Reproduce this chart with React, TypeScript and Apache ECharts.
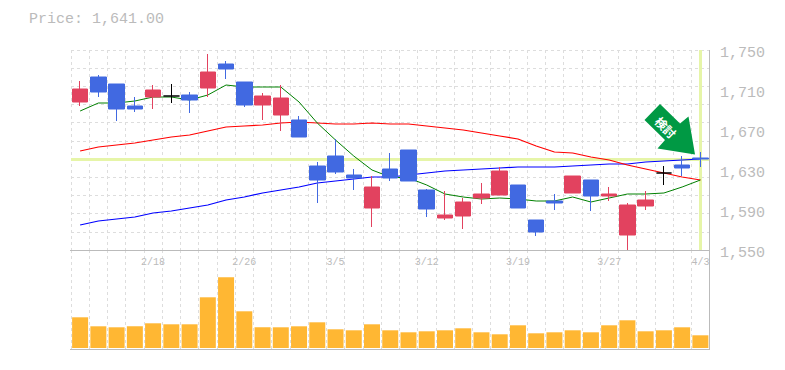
import React, { useEffect, useRef } from "react";
import * as echarts from "echarts";

const priceLabel = "Price: 1,641.00";
const lastPrice = 1641;
const lastIndex = 34;
const yTicks = [1550, 1590, 1630, 1670, 1710, 1750];
const dateLabels: Record<number, string> = { 4: "2/18", 9: "2/26", 14: "3/5", 19: "3/12", 24: "3/19", 29: "3/27", 34: "4/3" };
const categories = Array.from({ length: 35 }, (_, i) => dateLabels[i] ?? "");

// open, close, low, high
const candles = [
  [1698, 1711, 1694, 1719], [1723, 1708, 1703, 1725], [1716, 1691, 1679, 1716], [1694, 1691, 1688, 1703],
  [1703, 1710, 1691, 1715], [1704, 1704, 1697, 1716], [1705, 1700, 1687, 1708], [1712, 1728, 1703, 1746],
  [1736, 1731, 1721, 1739], [1718, 1695, 1693, 1718], [1695, 1704, 1680, 1707], [1685, 1702, 1669, 1715],
  [1680, 1663, 1663, 1684], [1634, 1620, 1597, 1638], [1644, 1628, 1626, 1661], [1625, 1622, 1610, 1631],
  [1592, 1613, 1573, 1624], [1631, 1622, 1619, 1647], [1650, 1619, 1619, 1650], [1610, 1591, 1583, 1611],
  [1582, 1585, 1580, 1609], [1584, 1598, 1571, 1602], [1602, 1606, 1596, 1617], [1605, 1629, 1605, 1633],
  [1615, 1592, 1592, 1615], [1580, 1568, 1564, 1580], [1599, 1597, 1590, 1606], [1607, 1624, 1607, 1624],
  [1620, 1604, 1589, 1620], [1604, 1606, 1599, 1613], [1565, 1595, 1550, 1597], [1594, 1600, 1590, 1609],
  [1627, 1627, 1615, 1634], [1635, 1632, 1624, 1644], [1642, 1641, 1633, 1648],
];
const maShort = [1689, 1697, 1697, 1699, 1703, 1703, 1700, 1705, 1715, 1713, 1713, 1713, 1698, 1677, 1660, 1644, 1630, 1623, 1622, 1615, 1606, 1603, 1601, 1602, 1601, 1599, 1599, 1603, 1598, 1602, 1606, 1606, 1607, 1613, 1620];
const maMid = [1649, 1653, 1655, 1657, 1660, 1663, 1665, 1669, 1673, 1674, 1675, 1677, 1678, 1677, 1676, 1676, 1677, 1676, 1676, 1674, 1672, 1670, 1667, 1664, 1661, 1654, 1648, 1647, 1643, 1640, 1635, 1631, 1627, 1623, 1620];
const maLong = [1575, 1579, 1581, 1583, 1587, 1589, 1592, 1595, 1600, 1603, 1607, 1610, 1613, 1617, 1619, 1621, 1623, 1623, 1625, 1627, 1629, 1630, 1631, 1632, 1633, 1633, 1633, 1634, 1635, 1636, 1636, 1638, 1639, 1640, 1641];
const volumes = [307, 217, 207, 217, 247, 237, 237, 507, 707, 367, 207, 207, 217, 257, 187, 177, 237, 177, 157, 167, 177, 197, 157, 137, 227, 147, 157, 177, 157, 227, 277, 167, 177, 207, 127];

const GRAY = "#bbbbbb";
const GRID = "#dddddd";
const HIGHLIGHT = "#e6f5a8";
const MONO = "'Liberation Mono', monospace";

const dashed = { show: true, lineStyle: { color: GRID, width: 1, type: [3, 3] as number[] } };

export default function App() {
  const ref = useRef<HTMLDivElement>(null);
  useEffect(() => {
    const chart = echarts.init(ref.current!, null, { renderer: "svg" });
    chart.setOption({
      animation: false,
      backgroundColor: "#ffffff",
      title: {
        text: priceLabel,
        left: 24,
        top: 7,
        textStyle: { color: GRAY, fontFamily: MONO, fontSize: 15, fontWeight: "normal" },
      },
      grid: [
        { left: 71, top: 50, width: 638.5, height: 200 },
        { left: 71, top: 250, width: 638.5, height: 100 },
      ],
      xAxis: [
        {
          type: "category", gridIndex: 0, data: categories, boundaryGap: true,
          axisLine: { show: false }, axisTick: { show: false },
          axisLabel: { interval: 0, color: GRAY, fontFamily: MONO, fontSize: 10, margin: 7, hideOverlap: false },
          splitLine: { ...dashed, interval: 0 },
        },
        {
          type: "category", gridIndex: 1, data: categories, boundaryGap: true,
          axisLine: { show: false }, axisTick: { show: false }, axisLabel: { show: false },
          splitLine: { ...dashed, interval: 0 },
        },
      ],
      yAxis: [
        {
          type: "value", gridIndex: 0, position: "right", min: 1550, max: 1750, scale: true,
          axisLine: { show: false }, axisTick: { show: false }, splitLine: { show: false },
          axisLabel: {
            customValues: yTicks, color: GRAY, fontFamily: MONO, fontSize: 15, margin: 10.5, verticalAlign: "top", lineHeight: 6,
            formatter: (v: number) => v.toLocaleString("en-US"),
          },
        },
        {
          type: "value", gridIndex: 0, position: "left", min: 0, max: 11, interval: 1,
          axisLine: { show: false }, axisTick: { show: false }, axisLabel: { show: false },
          splitLine: dashed,
        },
        {
          type: "value", gridIndex: 1, min: -20, max: 980,
          axisLine: { show: false }, axisTick: { show: false }, axisLabel: { show: false }, splitLine: { show: false },
        },
      ],
      series: [
        {
          type: "line", name: "Long", xAxisIndex: 0, yAxisIndex: 0, data: maLong, symbol: "none", z: 3,
          lineStyle: { color: "#0000ff", width: 1.2 },
          markLine: {
            silent: true, symbol: "none", label: { show: false }, z: 1,
            lineStyle: { color: HIGHLIGHT, width: 3, type: "solid" },
            data: [{ yAxis: lastPrice }, { xAxis: lastIndex }],
          },
        },
        { type: "line", name: "Mid", xAxisIndex: 0, yAxisIndex: 0, data: maMid, symbol: "none", z: 3, lineStyle: { color: "#ff0000", width: 1.2 } },
        { type: "line", name: "Short", xAxisIndex: 0, yAxisIndex: 0, data: maShort, symbol: "none", z: 3, lineStyle: { color: "#008000", width: 1 } },
        {
          type: "candlestick", xAxisIndex: 0, yAxisIndex: 0, data: candles, barWidth: 16, z: 5,
          itemStyle: {
            color: "#e2425f", color0: "#4169e1", borderColor: "#e2425f", borderColor0: "#4169e1",
            borderColorDoji: "#000000", borderWidth: 1,
          },
        },
        {
          type: "bar", xAxisIndex: 1, yAxisIndex: 2, data: volumes, barWidth: 16,
          itemStyle: { color: "#ffb733" },
        },
      ],
      graphic: [
        { type: "line", z: 10, shape: { x1: 70, y1: 250.5, x2: 710, y2: 250.5 }, style: { stroke: GRAY, lineWidth: 1 } },
        { type: "line", z: 10, shape: { x1: 70, y1: 349.5, x2: 710, y2: 349.5 }, style: { stroke: GRAY, lineWidth: 1 } },
        { type: "line", z: 10, shape: { x1: 709.5, y1: 50, x2: 709.5, y2: 350 }, style: { stroke: GRAY, lineWidth: 1 } },
        {
          type: "polygon", z: 20,
          shape: { points: [[660, 104], [680, 123.5], [688.5, 116.5], [695, 154.5], [657.5, 148.5], [665, 140], [644.5, 120]] },
          style: { fill: "#009944" },
        },
        {
          type: "text", z: 21, x: 666, y: 127, rotation: -Math.PI / 4,
          style: {
            text: "検討", fill: "#ffffff", font: "bold 12px 'Noto Sans CJK JP'",
            textAlign: "center", textVerticalAlign: "middle",
          },
        },
      ],
    });
    return () => chart.dispose();
  }, []);
  return <div ref={ref} style={{ position: "absolute", left: 0, top: 0, width: 785, height: 370 }} />;
}
